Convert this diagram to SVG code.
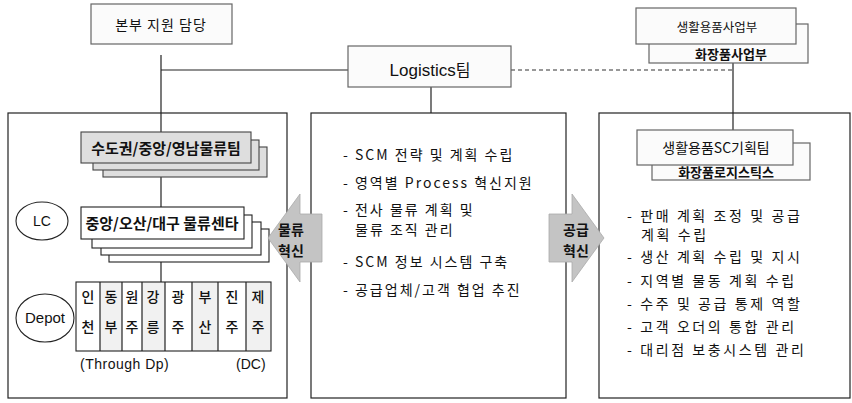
<svg xmlns="http://www.w3.org/2000/svg" width="852" height="403" viewBox="0 0 852 403">
<style>
.bg{fill:#ffffff}
.frame{fill:none;stroke:#222;stroke-width:1.2}
.box{fill:#fbfbfb;stroke:#666;stroke-width:1.2}
.gbox{fill:#dedede;stroke:#444;stroke-width:1.1}
.wbox{fill:#ffffff;stroke:#222;stroke-width:1.1}
.ln{stroke:#222;stroke-width:1.2;fill:none}
.dash{stroke:#333;stroke-width:1.1;fill:none;stroke-dasharray:4 3}
.kr{font-family:"Noto Sans CJK KR","Noto Sans",sans-serif;fill:#111}
.en{font-family:"Liberation Sans","Noto Sans",sans-serif;fill:#111}
.arrow{fill:#c4c4c4;stroke:#aaa;stroke-width:0.8}
.list{font-size:14px;letter-spacing:2px}
.rlist{font-size:14px;letter-spacing:2.6px}
</style>
<rect class="bg" x="0" y="0" width="852" height="403"/>

<g id="connectors">
  <line class="ln" x1="161" y1="55" x2="161" y2="132"/>
  <line class="ln" x1="161" y1="70" x2="348" y2="70"/>
  <line class="ln" x1="161" y1="177" x2="161" y2="207"/>
  <line class="ln" x1="161" y1="262" x2="161" y2="282"/>
  <line class="ln" x1="431" y1="87" x2="431" y2="113"/>
  <line class="dash" x1="511" y1="70" x2="733" y2="70"/>
  <line class="ln" x1="733" y1="63" x2="733" y2="133"/>
</g>

<g id="frame-left"><rect class="frame" x="8" y="113" width="279" height="285"/></g>
<g id="frame-middle"><rect class="frame" x="311" y="113" width="255" height="285"/></g>
<g id="frame-right"><rect class="frame" x="599" y="113" width="251" height="285"/></g>

<g id="node-hq">
  <rect class="box" x="91" y="4" width="141" height="40"/>
  <text class="kr" x="161" y="30" font-size="14" text-anchor="middle" letter-spacing="1">본부 지원 담당</text>
</g>

<g id="node-logistics">
  <rect class="box" x="348" y="46" width="163" height="41"/>
  <text class="en" x="430" y="76" font-size="17" text-anchor="middle">Logistics<tspan class="kr" font-size="16">팀</tspan></text>
</g>

<g id="node-cosmetics-biz">
  <rect class="box" x="649" y="24" width="159" height="39"/>
  <text class="kr" x="731" y="59" font-size="13" text-anchor="middle" font-weight="bold">화장품사업부</text>
</g>
<g id="node-household-biz">
  <rect class="box" x="636" y="8" width="160" height="36"/>
  <text class="kr" x="717" y="32" font-size="12.5" text-anchor="middle">생활용품사업부</text>
</g>

<g id="node-region-teams">
  <rect class="gbox" x="103" y="147" width="164" height="30"/>
  <rect class="gbox" x="93" y="140" width="166" height="30"/>
  <rect class="gbox" x="81" y="132" width="170" height="31"/>
  <text class="kr" x="166" y="154" font-size="15" font-weight="bold" text-anchor="middle">수도권/중앙/영남물류팀</text>
</g>

<g id="node-lc-label">
  <ellipse cx="42" cy="221" rx="26" ry="19" fill="#fff" stroke="#222" stroke-width="1.1"/>
  <text class="en" x="42" y="226" font-size="14" text-anchor="middle">LC</text>
</g>

<g id="node-centers">
  <rect class="wbox" x="109" y="229" width="160" height="33"/>
  <rect class="wbox" x="101" y="222" width="160" height="33"/>
  <rect class="wbox" x="92" y="215" width="160" height="33"/>
  <rect class="wbox" x="81" y="207" width="163" height="32"/>
  <text class="kr" x="162" y="229" font-size="15" font-weight="bold" text-anchor="middle">중앙/오산/대구 물류센타</text>
</g>

<g id="node-depot-label">
  <ellipse cx="45" cy="318" rx="29" ry="24" fill="#fff" stroke="#222" stroke-width="1.1"/>
  <text class="en" x="45" y="323" font-size="15" text-anchor="middle">Depot</text>
</g>

<g id="node-depot-table">
  <rect x="100" y="282" width="22" height="69" fill="#f1f1f1"/>
  <rect x="142" y="282" width="23" height="69" fill="#f1f1f1"/>
  <rect x="192" y="282" width="26" height="69" fill="#f1f1f1"/>
  <rect x="246" y="282" width="25" height="69" fill="#f1f1f1"/>
  <rect x="76" y="282" width="195" height="69" fill="none" stroke="#222" stroke-width="1.1"/>
  <g class="ln" stroke-width="1">
    <line x1="100" y1="282" x2="100" y2="351"/>
    <line x1="122" y1="282" x2="122" y2="351"/>
    <line x1="142" y1="282" x2="142" y2="351"/>
    <line x1="165" y1="282" x2="165" y2="351"/>
    <line x1="192" y1="282" x2="192" y2="351"/>
    <line x1="218" y1="282" x2="218" y2="351"/>
    <line x1="246" y1="282" x2="246" y2="351"/>
  </g>
  <g class="kr" font-size="14" font-weight="500" text-anchor="middle">
    <text x="88" y="302">인</text><text x="88" y="332">천</text>
    <text x="111" y="302">동</text><text x="111" y="332">부</text>
    <text x="132" y="302">원</text><text x="132" y="332">주</text>
    <text x="153" y="302">강</text><text x="153" y="332">릉</text>
    <text x="178" y="302">광</text><text x="178" y="332">주</text>
    <text x="205" y="302">부</text><text x="205" y="332">산</text>
    <text x="232" y="302">진</text><text x="232" y="332">주</text>
    <text x="258" y="302">제</text><text x="258" y="332">주</text>
  </g>
  <text class="en" x="80" y="369" font-size="14" letter-spacing="0.5">(Through Dp)</text>
  <text class="en" x="236" y="369" font-size="14">(DC)</text>
</g>

<g id="node-logistics-tasks" class="kr list">
  <text x="343" y="160">- SCM 전략 및 계획 수립</text>
  <text x="343" y="188">- 영역별 Process 혁신지원</text>
  <text x="343" y="215">- 전사 물류 계획 및</text>
  <text x="355" y="235">물류 조직 관리</text>
  <text x="343" y="267">- SCM 정보 시스템 구축</text>
  <text x="343" y="295">- 공급업체/고객 협업 추진</text>
</g>

<g id="node-cosmetics-logistics">
  <rect class="box" x="652" y="143" width="158" height="37"/>
  <text class="kr" x="726" y="177" font-size="13" font-weight="bold" text-anchor="middle">화장품로지스틱스</text>
</g>
<g id="node-household-sc">
  <rect class="box" x="637" y="130" width="156" height="35"/>
  <text class="kr" x="716" y="153" font-size="14" text-anchor="middle">생활용품SC기획팀</text>
</g>

<g id="node-sc-tasks" class="kr rlist">
  <text x="627" y="221">- 판매 계획 조정 및 공급</text>
  <text x="641" y="240">계획 수립</text>
  <text x="627" y="262">- 생산 계획 수립 및 지시</text>
  <text x="627" y="286">- 지역별 물동 계획 수립</text>
  <text x="627" y="309">- 수주 및 공급 통제 역할</text>
  <text x="627" y="332">- 고객 오더의 통합 관리</text>
  <text x="627" y="355">- 대리점 보충시스템 관리</text>
</g>

<g id="node-arrow-logistics">
  <polygon class="arrow" points="268,238 300,194 300,214 322,214 322,262 300,262 300,282"/>
  <text class="kr" x="291" y="235" font-size="14" font-weight="bold" text-anchor="middle">물류</text>
  <text class="kr" x="291" y="256" font-size="14" font-weight="bold" text-anchor="middle">혁신</text>
</g>

<g id="node-arrow-supply">
  <polygon class="arrow" points="604,238 572,194 572,214 549,214 549,262 572,262 572,282"/>
  <text class="kr" x="576" y="235" font-size="14" font-weight="bold" text-anchor="middle">공급</text>
  <text class="kr" x="576" y="256" font-size="14" font-weight="bold" text-anchor="middle">혁신</text>
</g>
</svg>
